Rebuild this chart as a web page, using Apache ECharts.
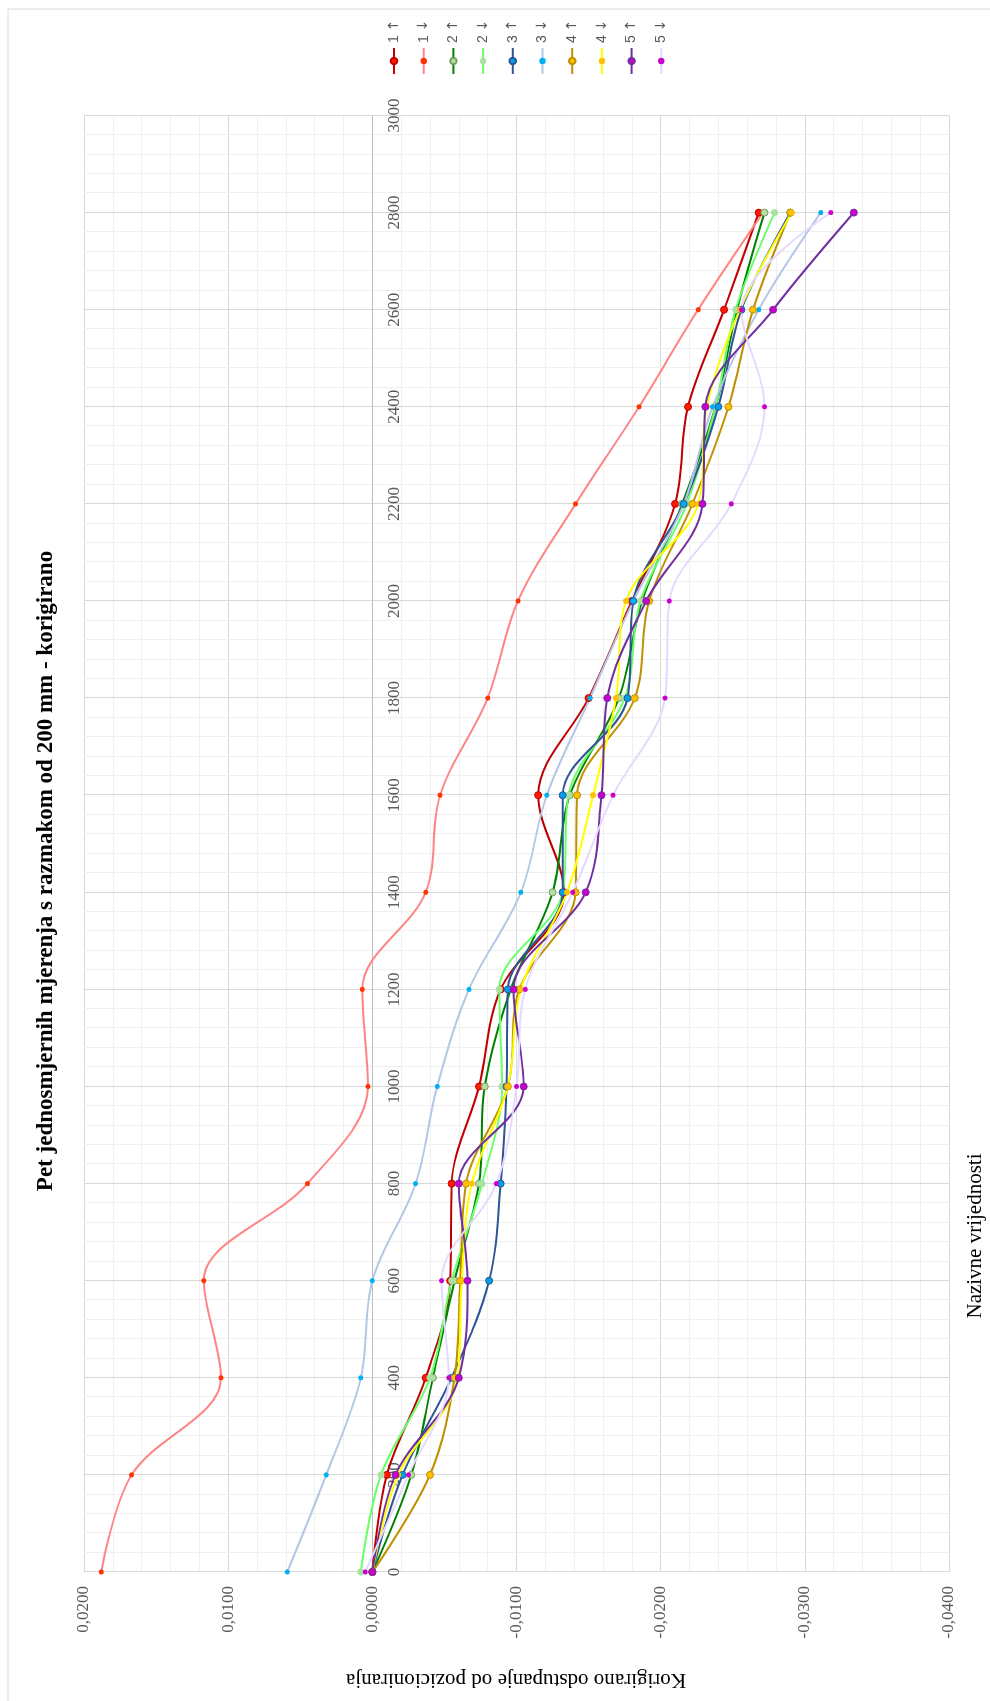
<!DOCTYPE html>
<html><head><meta charset="utf-8">
<script src="https://cdn.jsdelivr.net/npm/echarts@6/dist/echarts.min.js"></script>
<style>
html,body{margin:0;padding:0;width:990px;height:1701px;overflow:hidden;background:#fff;}
#chart{position:absolute;left:0;top:0;width:1701px;height:990px;transform-origin:0 0;transform:translate(0,1701px) rotate(-90deg);}
</style></head><body><div id="chart"></div>
<script>
// Nominal positions (mm)
const nominal = [0,200,400,600,800,1000,1200,1400,1600,1800,2000,2200,2400,2600,2800];
// Corrected positioning deviation per run
const s1Up   = [0,-0.0010,-0.0037,-0.0054,-0.0055,-0.0074,-0.0089,-0.0133,-0.0115,-0.0150,-0.0180,-0.0210,-0.0219,-0.0244,-0.0268];
const s1Down = [0.0188,0.0167,0.0105,0.0117,0.0045,0.0003,0.0007,-0.0037,-0.0047,-0.0080,-0.0101,-0.0141,-0.0185,-0.0226,-0.0271];
const s2Up   = [0,-0.0027,-0.0042,-0.0057,-0.0074,-0.0078,-0.0096,-0.0125,-0.0137,-0.0171,-0.0187,-0.0215,-0.0238,-0.0253,-0.0272];
const s2Down = [0.0008,-0.0006,-0.0040,-0.0055,-0.0076,-0.0090,-0.0088,-0.0132,-0.0136,-0.0175,-0.0186,-0.0218,-0.0238,-0.0252,-0.0279];
const s3Up   = [0,-0.0021,-0.0055,-0.0081,-0.0089,-0.0093,-0.0094,-0.0132,-0.0132,-0.0177,-0.0181,-0.0216,-0.0240,-0.0256,-0.0290];
const s3Down = [0.0059,0.0032,0.0008,0.0000,-0.0030,-0.0045,-0.0067,-0.0103,-0.0121,-0.0151,-0.0181,-0.0216,-0.0236,-0.0268,-0.0311];
const s4Up   = [0,-0.0040,-0.0057,-0.0061,-0.0065,-0.0094,-0.0102,-0.0141,-0.0142,-0.0182,-0.0192,-0.0222,-0.0247,-0.0264,-0.0290];
const s4Down = [0,-0.0018,-0.0059,-0.0062,-0.0069,-0.0094,-0.0103,-0.0135,-0.0153,-0.0169,-0.0176,-0.0226,-0.0232,-0.0255,-0.0291];
const s5Up   = [0,-0.0016,-0.0060,-0.0066,-0.0060,-0.0105,-0.0098,-0.0148,-0.0159,-0.0163,-0.0190,-0.0229,-0.0231,-0.0278,-0.0334];
const s5Down = [0.0005,-0.0025,-0.0053,-0.0048,-0.0086,-0.0100,-0.0106,-0.0139,-0.0167,-0.0203,-0.0206,-0.0249,-0.0272,-0.0256,-0.0318];
const seriesNames = ['1 ↑','1 ↓','2 ↑','2 ↓','3 ↑','3 ↓','4 ↑','4 ↓','5 ↑','5 ↓'];

const titleText = 'Pet jednosmjernih mjerenja s razmakom od 200 mm - korigirano';
const xName = 'Nazivne vrijednosti';
const yName = 'Korigirano odstupanje od pozicioniranja';

const styles = [
  {line:'#C00000', fill:'#FF1A00', border:'#C00000', size:7},
  {line:'#FF8585', fill:'#FF3300', border:null, size:5},
  {line:'#008000', fill:'#B5DDA4', border:'#70A060', size:7},
  {line:'#66FF66', fill:'#A9E2A0', border:null, size:7},
  {line:'#2F5597', fill:'#00A0E8', border:'#2F5597', size:7},
  {line:'#B4C7E7', fill:'#00B0F0', border:null, size:5},
  {line:'#BF9000', fill:'#FFC000', border:'#BF9000', size:7},
  {line:'#FFFF00', fill:'#FFC000', border:null, size:6},
  {line:'#7030A0', fill:'#CC00CC', border:'#7030A0', size:7},
  {line:'#E6D9FF', fill:'#CC00CC', border:null, size:5}
];
const allData = [s1Up,s1Down,s2Up,s2Down,s3Up,s3Down,s4Up,s4Down,s5Up,s5Down];

const series = allData.map((d,i)=>({
  name: seriesNames[i],
  type: 'line',
  smooth: 0.35,
  symbol: 'circle',
  symbolSize: styles[i].size,
  showAllSymbol: true,
  data: nominal.map((n,k)=>[n, d[k]]),
  lineStyle: {color: styles[i].line, width: 2},
  itemStyle: {color: styles[i].fill, borderColor: styles[i].border || styles[i].fill, borderWidth: styles[i].border ? 1 : 0},
  emphasis: {disabled: true},
  animation: false
}));

const gridTop = 84, gridBottom = 41, chartH = 990;
const yMin = -0.04, yMax = 0.02;
const plotH = chartH - gridTop - gridBottom;
const zeroOffset = -(plotH * (0 - yMin) / (yMax - yMin));

const chart = echarts.init(document.getElementById('chart'), null, {renderer:'canvas'});
chart.setOption({
  backgroundColor: '#fff',
  animation: false,
  title: {
    text: titleText, left: 825, top: 30, textAlign: 'center',
    textStyle: {fontFamily: '"Liberation Serif"', fontWeight: 'bold', fontSize: 23, color: '#000'}
  },
  legend: {
    orient: 'vertical', left: 1621, top: 382,
    itemWidth: 26, itemHeight: 8, itemGap: 15.7,
    selectedMode: false,
    formatter: name => { const p = name.split(' '); return '{n|' + p[0] + '} {a|' + p[1] + '}'; },
    textStyle: {fontFamily: '"Liberation Sans"', fontSize: 14, lineHeight: 14, color: '#595959',
      rich: {
        n: {fontFamily: '"Liberation Sans"', fontSize: 14, lineHeight: 14, color: '#595959'},
        a: {fontFamily: '"DejaVu Sans"', fontSize: 14, lineHeight: 14, color: '#595959'}
      }},
    data: seriesNames
  },
  grid: {left: 129, right: 115.5, top: gridTop, bottom: gridBottom, containLabel: false},
  xAxis: {
    type: 'value', min: 0, max: 3000, interval: 200,
    position: 'bottom', offset: zeroOffset,
    axisLine: {show: true, onZero: false, lineStyle: {color: '#BFBFBF'}},
    axisTick: {show: false},
    axisLabel: {margin: 14, fontFamily: '"Liberation Serif"', fontSize: 17, color: '#595959',
      formatter: v => String(v)},
    splitLine: {show: true, lineStyle: {color: '#D9D9D9'}},
    minorTick: {show: false, splitNumber: 5},
    minorSplitLine: {show: true, lineStyle: {color: '#F0F0F0'}}
  },
  yAxis: {
    type: 'value', min: yMin, max: yMax, interval: 0.01,
    axisLine: {show: true, lineStyle: {color: '#D9D9D9'}},
    axisTick: {show: false},
    axisLabel: {margin: 14, fontFamily: '"Liberation Serif"', fontSize: 17, color: '#595959',
      formatter: v => v.toFixed(4).replace('.', ',')},
    splitLine: {show: true, lineStyle: {color: '#D9D9D9'}},
    minorTick: {show: false, splitNumber: 5},
    minorSplitLine: {show: true, lineStyle: {color: '#F0F0F0'}}
  },
  graphic: [
    {type: 'rect', silent: true, z: -10, shape: {x: -10, y: 8, width: 1702, height: 1000},
      style: {fill: 'none', stroke: '#D9D9D9', lineWidth: 1}},
    {type: 'text', silent: true, x: 465, y: 975,
      style: {text: xName, font: '21px "Liberation Serif"', fill: '#000', align: 'center', verticalAlign: 'middle'}},
    {type: 'text', silent: true, x: 21, y: 516, rotation: Math.PI / 2,
      style: {text: yName, font: '21px "Liberation Serif"', fill: '#000', align: 'center', verticalAlign: 'middle'}}
  ],
  series: series
});
</script>
</body></html>
